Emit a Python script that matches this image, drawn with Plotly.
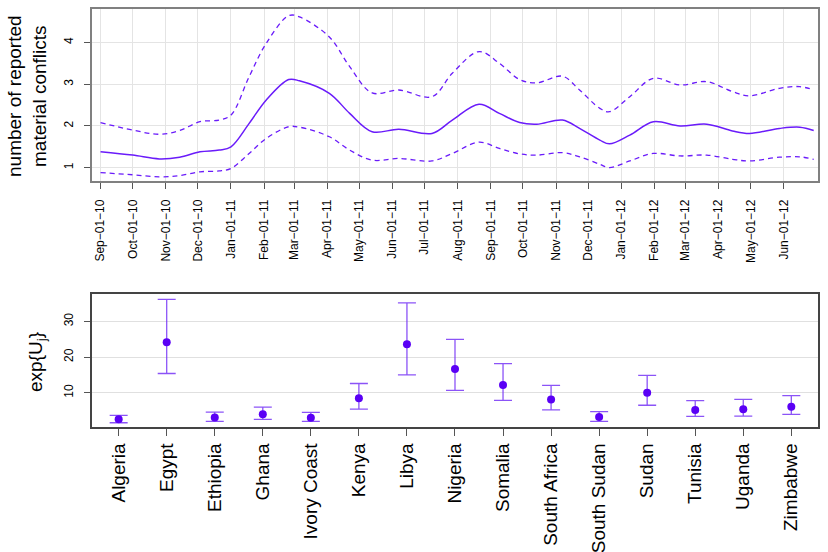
import plotly.graph_objs as go

# top panel: smoothed estimate with bands
dates = ['2010-09-01', '2010-10-01', '2010-10-26', '2010-11-14', '2010-12-03', '2010-12-21',
         '2011-01-01', '2011-01-18', '2011-02-03', '2011-02-24', '2011-03-06', '2011-04-03',
         '2011-04-22', '2011-05-13', '2011-06-07', '2011-07-08', '2011-07-27', '2011-08-21',
         '2011-09-09', '2011-09-28', '2011-10-14', '2011-11-07', '2011-11-23', '2011-12-12',
         '2011-12-21', '2012-01-09', '2012-01-31', '2012-02-25', '2012-03-21', '2012-04-14',
         '2012-04-30', '2012-05-28', '2012-06-16', '2012-06-29']
fit = [1.38, 1.30, 1.21, 1.25, 1.38, 1.42, 1.50, 2.06, 2.62, 3.11, 3.08, 2.78,
       2.30, 1.86, 1.92, 1.82, 2.14, 2.52, 2.30, 2.08, 2.04, 2.14, 1.94, 1.66,
       1.57, 1.78, 2.10, 2.00, 2.04, 1.88, 1.82, 1.94, 1.97, 1.89]
upper = [2.08, 1.90, 1.80, 1.89, 2.10, 2.14, 2.26, 3.18, 3.98, 4.64, 4.61, 4.13,
         3.42, 2.79, 2.86, 2.70, 3.26, 3.78, 3.50, 3.11, 3.03, 3.19, 2.86, 2.42,
         2.34, 2.70, 3.14, 2.98, 3.06, 2.82, 2.72, 2.90, 2.94, 2.86]
lower = [0.88, 0.83, 0.78, 0.81, 0.90, 0.92, 0.98, 1.34, 1.70, 1.98, 1.97, 1.74,
         1.42, 1.18, 1.22, 1.16, 1.34, 1.61, 1.46, 1.33, 1.30, 1.36, 1.26, 1.08,
         1.00, 1.16, 1.34, 1.28, 1.30, 1.20, 1.16, 1.25, 1.26, 1.20]

month_ticks = ['2010-09-01', '2010-10-01', '2010-11-01', '2010-12-01', '2011-01-01',
               '2011-02-01', '2011-03-01', '2011-04-01', '2011-05-01', '2011-06-01',
               '2011-07-01', '2011-08-01', '2011-09-01', '2011-10-01', '2011-11-01',
               '2011-12-01', '2012-01-01', '2012-02-01', '2012-03-01', '2012-04-01',
               '2012-05-01', '2012-06-01']
month_labels = ['Sep\u221201\u221210', 'Oct\u221201\u221210', 'Nov\u221201\u221210',
                'Dec\u221201\u221210', 'Jan\u221201\u221211', 'Feb\u221201\u221211',
                'Mar\u221201\u221211', 'Apr\u221201\u221211', 'May\u221201\u221211',
                'Jun\u221201\u221211', 'Jul\u221201\u221211', 'Aug\u221201\u221211',
                'Sep\u221201\u221211', 'Oct\u221201\u221211', 'Nov\u221201\u221211',
                'Dec\u221201\u221211', 'Jan\u221201\u221212', 'Feb\u221201\u221212',
                'Mar\u221201\u221212', 'Apr\u221201\u221212', 'May\u221201\u221212',
                'Jun\u221201\u221212']

# bottom panel: country effects
countries = ['Algeria', 'Egypt', 'Ethiopia', 'Ghana', 'Ivory Coast', 'Kenya', 'Libya',
             'Nigeria', 'Somalia', 'South Africa', 'South Sudan', 'Sudan', 'Tunisia',
             'Uganda', 'Zimbabwe']
est = [2.55, 24.2, 3.1, 4.0, 3.0, 8.5, 23.6, 16.7, 12.2, 8.1, 3.2, 10.0, 5.15, 5.35, 6.1]
ci_hi = [3.67, 36.2, 4.6, 6.0, 4.5, 12.6, 35.2, 25.0, 18.2, 12.1, 4.7, 14.9, 7.8, 8.15, 9.2]
ci_lo = [1.6, 15.4, 2.0, 2.55, 2.0, 5.4, 15.0, 10.7, 7.9, 5.2, 2.0, 6.5, 3.4, 3.47, 3.95]

LINE = '#6A1BFA'
DOT = '#5A00F5'
FONT = 'Liberation Sans, Arial, sans-serif'

fig = go.Figure()

fig.add_trace(go.Scatter(x=dates, y=upper, mode='lines', line_shape='spline',
                         line=dict(color=LINE, width=1.3, dash='5px,4px'),
                         xaxis='x', yaxis='y', showlegend=False))
fig.add_trace(go.Scatter(x=dates, y=lower, mode='lines', line_shape='spline',
                         line=dict(color=LINE, width=1.3, dash='5px,4px'),
                         xaxis='x', yaxis='y', showlegend=False))
fig.add_trace(go.Scatter(x=dates, y=fit, mode='lines', line_shape='spline',
                         line=dict(color=LINE, width=1.5),
                         xaxis='x', yaxis='y', showlegend=False))

err_plus = [h - e for h, e in zip(ci_hi, est)]
err_minus = [e - l for e, l in zip(est, ci_lo)]
fig.add_trace(go.Scatter(x=countries, y=est, mode='markers',
                         marker=dict(color=DOT, size=8),
                         error_y=dict(type='data', array=err_plus, arrayminus=err_minus,
                                      color='rgba(110,40,245,0.8)', thickness=1.3, width=9),
                         xaxis='x2', yaxis='y2', showlegend=False))

fig.update_layout(
    width=828, height=552,
    margin=dict(l=0, r=0, t=0, b=0),
    paper_bgcolor='white', plot_bgcolor='white',
    font=dict(family=FONT, color='black'),
    xaxis=dict(domain=[0.1111, 0.9879], anchor='y', type='date',
               range=['2010-08-24', '2012-07-03'],
               tickvals=month_ticks, ticktext=month_labels, tickangle=-90,
               tickfont=dict(size=12), ticks='outside', ticklen=6, tickcolor='#555',
               ticklabelstandoff=6,
               showgrid=True, gridcolor='#e4e4e4', gridwidth=1,
               showline=True, linecolor='#808080', linewidth=1.5, mirror=True,
               zeroline=False, automargin=False),
    yaxis=dict(domain=[0.6721, 0.9837], anchor='x', range=[0.68, 4.80],
               tickvals=[1, 2, 3, 4], tickangle=-90, tickfont=dict(size=12),
               ticks='outside', ticklen=6, tickcolor='#555', ticklabelstandoff=6,
               showgrid=True, gridcolor='#e4e4e4', gridwidth=1,
               showline=True, linecolor='#808080', linewidth=1.5, mirror=True,
               zeroline=False, automargin=False),
    xaxis2=dict(domain=[0.1111, 0.9879], anchor='y2', type='category',
                range=[-0.555, 14.555], tickangle=-90, tickfont=dict(size=19),
                ticks='outside', ticklen=7, tickcolor='#555',
                showgrid=False, showline=True, linecolor='#444', linewidth=1.5,
                mirror=True, zeroline=False, automargin=False),
    yaxis2=dict(domain=[0.2264, 0.4668], anchor='x2', range=[0.4, 37.6],
                tickvals=[10, 20, 30], tickangle=-90, tickfont=dict(size=12),
                ticks='outside', ticklen=6, tickcolor='#555', ticklabelstandoff=6,
                showgrid=True, gridcolor='#e0e0e0', gridwidth=1,
                showline=True, linecolor='#444', linewidth=1.5, mirror=True,
                zeroline=False, automargin=False),
    annotations=[
        dict(text='number of reported<br>material conflicts', xref='paper', yref='paper',
             x=27 / 828, y=1 - 96 / 552, xanchor='center', yanchor='middle',
             textangle=-90, showarrow=False, font=dict(size=19)),
        dict(text='exp{U<sub>j</sub>}', xref='paper', yref='paper',
             x=37 / 828, y=1 - 362 / 552, xanchor='center', yanchor='middle',
             textangle=-90, showarrow=False, font=dict(size=19)),
    ],
)

fig.write_html('out.html', config={'displayModeBar': False},
               post_script="document.body.style.margin='0px';")
